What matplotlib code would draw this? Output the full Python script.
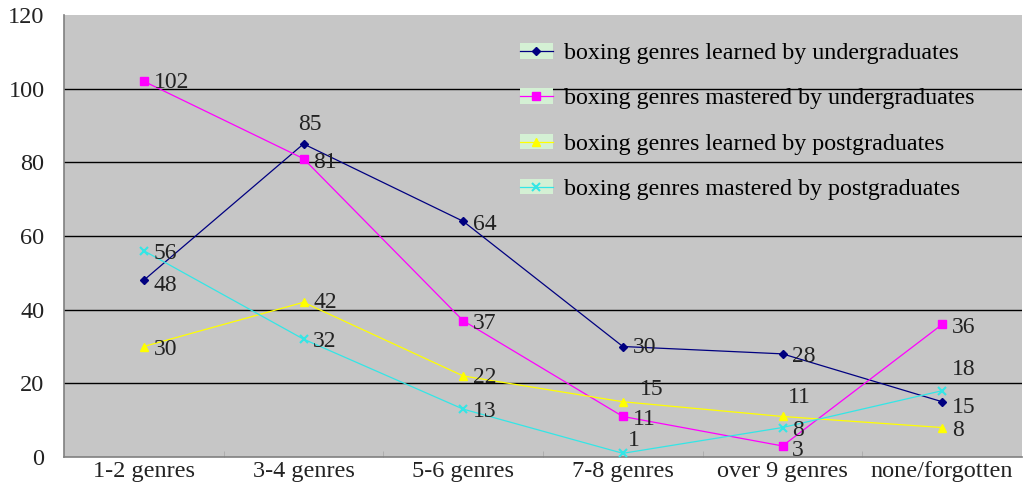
import numpy as np
import matplotlib.pyplot as plt
from matplotlib.patches import Rectangle
from matplotlib.legend_handler import HandlerTuple

# data
categories = ['1-2 genres', '3-4 genres', '5-6 genres', '7-8 genres', 'over 9 genres', 'none/forgotten']
learned_ug = [48, 85, 64, 30, 28, 15]
mastered_ug = [102, 81, 37, 11, 3, 36]
learned_pg = [30, 42, 22, 15, 11, 8]
mastered_pg = [56, 32, 13, 1, 8, 18]
series_names = ['boxing genres learned by undergraduates',
                'boxing genres mastered by undergraduates',
                'boxing genres learned by postgraduates',
                'boxing genres mastered by postgraduates']

plt.rcParams['font.family'] = ['Liberation Serif', 'DejaVu Serif']

fig = plt.figure(figsize=(10.28, 4.87), dpi=100)
ax = fig.add_axes([64 / 1028, 1 - 457 / 487, 958 / 1028, 442 / 487])
ax.set_facecolor('#c6c6c6')

x = np.arange(len(categories))
styles = [
    dict(color='#000080', marker='D', markersize=4, lw=0.9),
    dict(color='#ff00ff', marker='s', markersize=6, lw=0.9),
    dict(color='#ffff00', marker='^', markersize=6, lw=0.9),
    dict(color='#33e6e6', marker='x', markersize=6, mew=1.5, lw=0.9),
]
all_series = [learned_ug, mastered_ug, learned_pg, mastered_pg]

lines = []
for vals, st in zip(all_series, styles):
    ln, = ax.plot(x, vals, zorder=3, **st)
    lines.append(ln)

# point labels, offsets in points
offsets = [
    [(7, -4), (-4, 14), (7, -2), (7, -1), (7, -2), (7, -4)],
    [(7, -1), (7, -3), (7, -2), (7, -2), (7, -3), (7, -2)],
    [(7, -2), (7, 0), (7, -1), (12, 9), (4, 14), (7, -2)],
    [(7, -2), (7, -2), (7, -2), (4, 9), (7, -2), (7, 15)],
]
for vals, offs in zip(all_series, offsets):
    for xi, v, (dx, dy) in zip(x, vals, offs):
        ax.annotate(str(v), (xi, v), xytext=(dx, dy), textcoords='offset points',
                    fontsize=17, color='#222222', va='center', ha='left', zorder=4)

ax.set_xlim(-0.5, len(categories) - 0.5)
ax.set_ylim(0, 120)
ax.set_yticks(np.arange(0, 121, 20))
ax.set_xticks(x)
ax.set_xticklabels(categories)
ax.tick_params(axis='both', length=0, colors='#222222', labelsize=17.5)
ax.tick_params(axis='x', pad=3)
ax.tick_params(axis='y', pad=14)
ax.set_xticks(np.arange(0.5, len(categories) - 1, 1), minor=True)
ax.tick_params(axis='x', which='minor', length=4, direction='in', color='#aaaaaa')

for yv in range(20, 101, 20):
    ax.axhline(yv, color='black', lw=1, zorder=1)

for side in ['top', 'right']:
    ax.spines[side].set_visible(False)
for side in ['left', 'bottom']:
    ax.spines[side].set_color('#808080')
    ax.spines[side].set_linewidth(1.2)

# legend with pale green handle background
handles = []
for ln in lines:
    bg = Rectangle((0, 0), 1, 1, facecolor='#d4f0d4', edgecolor='none')
    handles.append((bg, ln))
leg = ax.legend(handles, series_names, handler_map={tuple: HandlerTuple(ndivide=1, pad=0)},
                loc='upper left', bbox_to_anchor=(0.453, 0.985), frameon=False,
                fontsize=17.3, labelspacing=1.0, handlelength=1.4, handleheight=0.6,
                handletextpad=0.45)

fig.savefig('out.png', dpi=100)
